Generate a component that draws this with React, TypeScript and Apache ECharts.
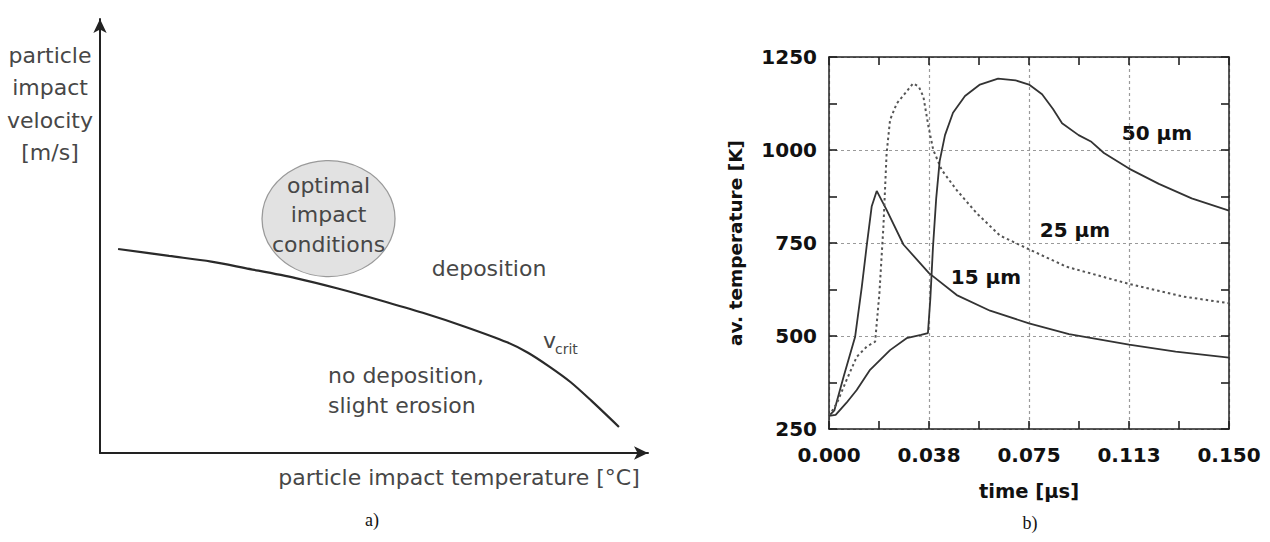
import React, { useEffect, useRef } from "react";
import * as echarts from "echarts";

// ---------- panel a (schematic) ----------
const A_CURVE_X = [3.3, 12.6, 20.3, 26.5, 35.7, 43.4, 51.1, 58.9, 66.6, 74.3, 78.1, 82.0, 85.9, 89.7, 94.7];
const A_CURVE_Y = [47.0, 45.4, 44.1, 42.6, 40.3, 37.9, 35.2, 32.3, 29.1, 25.5, 23.1, 19.9, 16.3, 12.0, 6.0];
const A_OPTIMUM = [41.7, 54.0];

// ---------- panel b (average temperature vs time) ----------
const X_TICK_LABELS = ["0.000", "0.038", "0.075", "0.113", "0.150"];
const SERIES_NAMES = ["15 µm", "25 µm", "50 µm"];

const T15_TIME = [0, 0.002, 0.0055, 0.0098, 0.0123, 0.0141, 0.016, 0.0179, 0.0216, 0.0279, 0.0375, 0.0479, 0.0604, 0.075, 0.09, 0.1125, 0.13, 0.15];
const T15_TEMP = [285, 300, 391, 498, 632, 740, 848, 890, 839, 746, 669, 610, 568, 534, 505, 477, 458, 442];

const T25_TIME = [0, 0.003, 0.0066, 0.0104, 0.0141, 0.0173, 0.0189, 0.0204, 0.0216, 0.0229, 0.0254, 0.0285, 0.0315, 0.0337, 0.0354, 0.0373, 0.0391, 0.0423, 0.0479, 0.0554, 0.0641, 0.075, 0.0891, 0.1125, 0.1329, 0.15];
const T25_TEMP = [285, 320, 382, 444, 471, 485, 615, 794, 991, 1081, 1125, 1152, 1179, 1170, 1143, 1063, 1000, 946, 892, 830, 770, 733, 686, 640, 606, 588];

const T50_TIME = [0, 0.0025, 0.0065, 0.0104, 0.0154, 0.0229, 0.0291, 0.0345, 0.0371, 0.038, 0.039, 0.0402, 0.0415, 0.0435, 0.0465, 0.051, 0.0566, 0.0634, 0.07, 0.075, 0.0799, 0.084, 0.0874, 0.0936, 0.0984, 0.1031, 0.1125, 0.1237, 0.136, 0.15];
const T50_TEMP = [285, 288, 320, 355, 409, 462, 494, 503, 508, 600, 740, 870, 970, 1040, 1100, 1145, 1176, 1192, 1187, 1176, 1150, 1110, 1072, 1040, 1022, 992, 950, 909, 870, 837];

const zip = (a: number[], b: number[]) => a.map((v, i) => [v, b[i]]);

const GRAY_TEXT = "#474747";
const SANS = "DejaVu Sans";
const TICK_COLOR = "#222";

export default function App() {
  const ref = useRef<HTMLDivElement>(null);

  useEffect(() => {
    if (!ref.current) return;
    const chart = echarts.init(ref.current, null, { renderer: "svg" });

    // frame line with inward major and minor ticks only
    const tickAxis = (gridIndex: number, extra: any) => ({
      gridIndex,
      type: "value",
      axisLine: { show: true, onZero: false, lineStyle: { color: "#222", width: 1.5 } },
      axisTick: { show: true, inside: true, length: 8, lineStyle: { color: TICK_COLOR, width: 1.6 } },
      minorTick: { show: true, splitNumber: 2, length: 8, lineStyle: { color: TICK_COLOR, width: 1.6 } },
      axisLabel: { show: false },
      splitLine: { show: false },
      ...extra,
    });

    // labels and dotted grid only
    const labelAxis = (extra: any) => ({
      gridIndex: 1,
      type: "value",
      axisLine: { show: false, onZero: false },
      axisTick: { show: false },
      splitLine: { show: true, lineStyle: { type: [3, 3], color: "#9a9a9a", width: 1.2 } },
      ...extra,
    });

    const tickLabel = () => ({
      fontFamily: SANS,
      fontWeight: "bold",
      fontSize: 20,
      color: "#111",
    });

    const arrowAxis = () => ({
      gridIndex: 0,
      type: "value",
      min: 0,
      max: 100,
      axisLine: {
        show: true,
        onZero: false,
        lineStyle: { color: "#222", width: 2 },
        symbol: ["none", "arrow"],
        symbolSize: [10, 14],
      },
      axisTick: { show: false },
      axisLabel: { show: false },
      splitLine: { show: false },
    });

    const text = (x: number, y: number, t: string, style: any = {}, extra: any = {}) => ({
      type: "text",
      x,
      y,
      ...extra,
      style: {
        text: t,
        fontFamily: SANS,
        fontSize: 22,
        fill: GRAY_TEXT,
        textAlign: "center",
        textVerticalAlign: "middle",
        ...style,
      },
    });

    const bold = { fontWeight: "bold", fontSize: 20, fill: "#111" };
    const xRange = { min: 0, max: 0.15, interval: 0.0375 };
    const yRange = { min: 250, max: 1250, interval: 250 };
    const boxGrid = { left: 829, top: 57, width: 400, height: 372, show: false };

    const option: any = {
      animation: false,
      backgroundColor: "#fff",
      grid: [
        { left: 100, top: 19, width: 548, height: 434, show: false },
        boxGrid,
        { ...boxGrid },
      ],
      xAxis: [
        arrowAxis(),
        labelAxis({
          position: "bottom",
          ...xRange,
          axisLabel: {
            ...tickLabel(),
            margin: 16,
            formatter: (v: number) => X_TICK_LABELS[Math.round(v / 0.0375)] ?? "",
          },
        }),
        tickAxis(1, { position: "top", ...xRange }),
        tickAxis(2, { position: "bottom", ...xRange }),
      ],
      yAxis: [
        arrowAxis(),
        labelAxis({
          position: "left",
          ...yRange,
          axisLabel: { ...tickLabel(), margin: 12, formatter: (v: number) => String(v) },
        }),
        tickAxis(1, { position: "right", ...yRange }),
        tickAxis(2, { position: "left", ...yRange }),
      ],
      series: [
        {
          type: "scatter",
          xAxisIndex: 0,
          yAxisIndex: 0,
          data: [A_OPTIMUM],
          symbol: "circle",
          symbolSize: [133, 116],
          itemStyle: { color: "#e2e2e2", borderColor: "#9a9a9a", borderWidth: 1.2, opacity: 1 },
          label: {
            show: true,
            position: "inside",
            formatter: "optimal\nimpact\nconditions",
            fontFamily: SANS,
            fontSize: 22,
            lineHeight: 29.5,
            color: GRAY_TEXT,
            offset: [0, -4],
          },
          z: 1,
        },
        {
          type: "line",
          xAxisIndex: 0,
          yAxisIndex: 0,
          data: zip(A_CURVE_X, A_CURVE_Y),
          showSymbol: false,
          smooth: 0.3,
          lineStyle: { color: "#2a2a2a", width: 2.2 },
          z: 3,
        },
        {
          name: SERIES_NAMES[0],
          type: "line",
          xAxisIndex: 1,
          yAxisIndex: 1,
          data: zip(T15_TIME, T15_TEMP),
          showSymbol: false,
          lineStyle: { color: "#333", width: 1.8 },
        },
        {
          name: SERIES_NAMES[1],
          type: "line",
          xAxisIndex: 1,
          yAxisIndex: 1,
          data: zip(T25_TIME, T25_TEMP),
          showSymbol: false,
          lineStyle: { color: "#555", width: 2, type: [2.5, 3] },
        },
        {
          name: SERIES_NAMES[2],
          type: "line",
          xAxisIndex: 1,
          yAxisIndex: 1,
          data: zip(T50_TIME, T50_TEMP),
          showSymbol: false,
          lineStyle: { color: "#333", width: 1.8 },
        },
        {
          type: "line",
          xAxisIndex: 3,
          yAxisIndex: 3,
          data: [],
          showSymbol: false,
          silent: true,
        },
      ],
      graphic: [
        text(50, 104, "particle\nimpact\nvelocity\n[m/s]", { lineHeight: 32.5 }),
        text(459, 477, "particle impact temperature [°C]"),
        text(489, 268, "deposition"),
        text(328, 390, "no deposition,\nslight erosion", { lineHeight: 30, textAlign: "left" }),
        text(543, 340, "v", { textAlign: "left" }),
        text(555, 349, "crit", { textAlign: "left", fontSize: 14 }),
        text(372, 520, "a)", { fontFamily: "Liberation Serif", fontSize: 18, fill: "#111" }),
        text(735, 243, "av. temperature [K]", { ...bold, fontSize: 18.5 }, { rotation: Math.PI / 2 }),
        text(1029, 491, "time [µs]", { ...bold, fontSize: 19.5 }),
        text(1157, 133, SERIES_NAMES[2], bold),
        text(1075, 230, SERIES_NAMES[1], bold),
        text(986, 277, SERIES_NAMES[0], bold),
        text(1030, 523, "b)", { fontFamily: "Liberation Serif", fontSize: 18, fill: "#111" }),
      ],
    };

    chart.setOption(option);
    return () => chart.dispose();
  }, []);

  return (
    <div
      ref={ref}
      style={{ position: "absolute", left: 0, top: 0, width: 1270, height: 542, background: "#fff" }}
    />
  );
}
